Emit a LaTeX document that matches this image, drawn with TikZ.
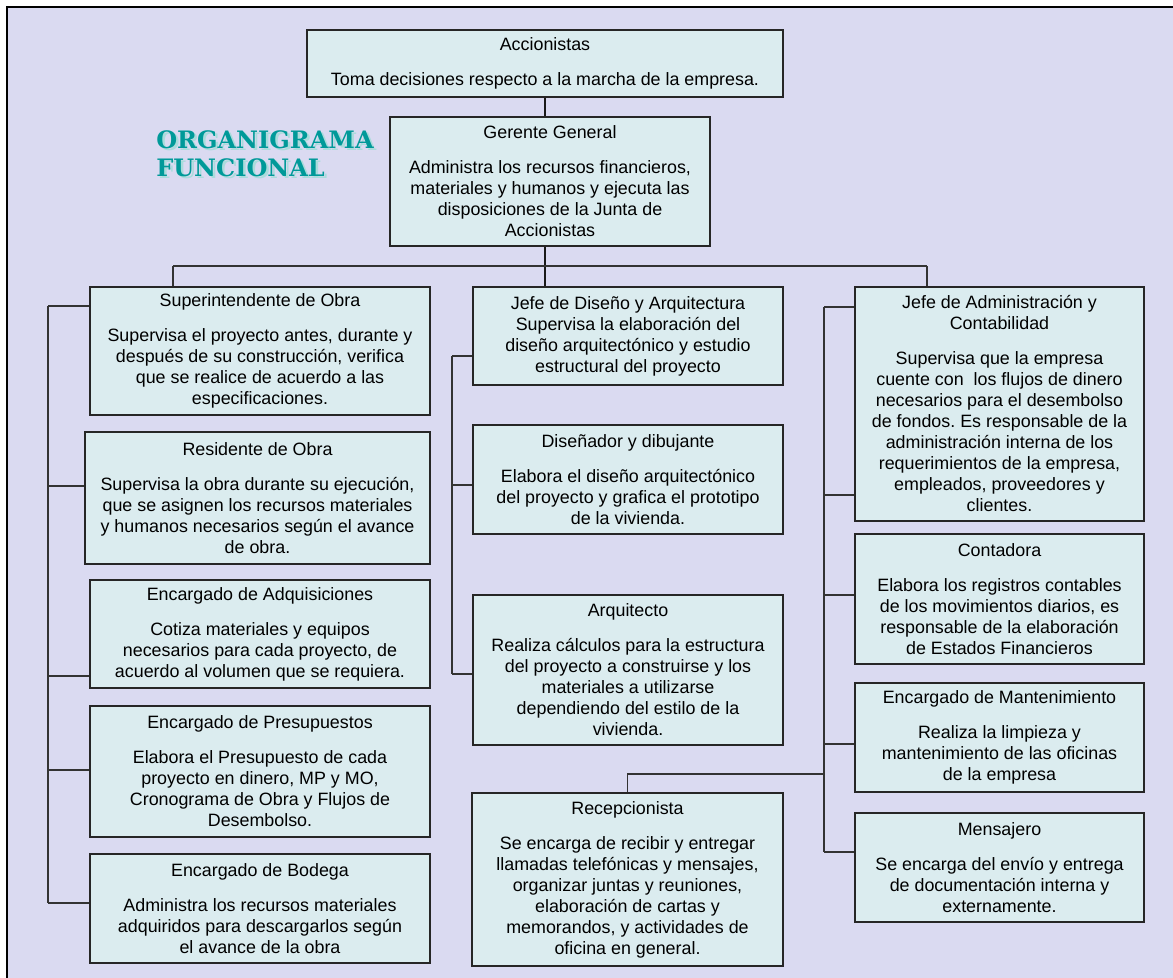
\documentclass[tikz,border=0pt]{standalone}
\usepackage{fontspec}
\setmainfont{Liberation Sans}
\newfontfamily\titlefont{DejaVu Serif}
\frenchspacing

\definecolor{fondo}{RGB}{218,218,241}
\definecolor{caja}{RGB}{219,236,239}
\definecolor{titulo}{RGB}{0,153,153}
\definecolor{sombra}{RGB}{170,220,220}

\tikzset{
  puesto/.style={draw=black!85, fill=caja, line width=0.9pt, align=center,
    inner sep=0pt, font=\fontsize{13.4}{15.75}\selectfont},
  linea/.style={draw=black!80, line width=0.9pt},
  gruesa/.style={draw=black!90, line width=1.6pt}
}

\begin{document}
\begin{tikzpicture}[x=0.75pt,y=-0.75pt]
\useasboundingbox (0,0) rectangle (1173,977);
\fill[white] (0,0) rectangle (1173,977);
\draw[fill=fondo, line width=1.2pt] (7,7) rectangle (1190,995);

% titulo
\node[anchor=north west, inner sep=0pt, align=left, text=sombra,
      font=\titlefont\bfseries\fontsize{18}{21}\selectfont] (titsh) at (158.5,132.5)
      {ORGANIGRAMA\\FUNCIONAL};
\node[anchor=north west, inner sep=0pt, align=left, text=titulo,
      font=\titlefont\bfseries\fontsize{18}{21}\selectfont] (tit) at (156,130)
      {ORGANIGRAMA\\FUNCIONAL};

\begin{scope}[every node/.style={puesto}]
    \node[minimum width=357pt, minimum height=50.25pt] (acc) at (545,63.5)
      {Accionistas\\[10.5pt]Toma decisiones respecto a la marcha de la empresa.};
    \node[minimum width=240pt, minimum height=96.75pt] (ger) at (550,181.5)
      {Gerente General\\[10.5pt]Administra los recursos financieros,\\materiales y humanos y ejecuta las\\disposiciones de la Junta de\\Accionistas};

    % columna izquierda
    \node[minimum width=255pt, minimum height=96pt] (sup) at (260,351)
      {Superintendente de Obra\\[10.5pt]Supervisa el proyecto antes, durante y\\después de su construcción, verifica\\que se realice de acuerdo a las\\especificaciones.};
    \node[minimum width=258.75pt, minimum height=99pt] (res) at (257.5,498)
      {Residente de Obra\\[10.5pt]Supervisa la obra durante su ejecución,\\que se asignen los recursos materiales\\y humanos necesarios según el avance\\de obra.};
    \node[minimum width=255pt, minimum height=81pt] (adq) at (260,634)
      {Encargado de Adquisiciones\\[10.5pt]Cotiza materiales y equipos\\necesarios para cada proyecto, de\\acuerdo al volumen que se requiera.};
    \node[minimum width=255pt, minimum height=98.25pt] (pre) at (260,771.5)
      {Encargado de Presupuestos\\[10.5pt]Elabora el Presupuesto de cada\\proyecto en dinero, MP y MO,\\Cronograma de Obra y Flujos de\\Desembolso.};
    \node[minimum width=255pt, minimum height=81.75pt] (bod) at (260,908.5)
      {Encargado de Bodega\\[10.5pt]Administra los recursos materiales\\adquiridos para descargarlos según\\el avance de la obra};

    % columna central
    \node[minimum width=232.5pt, minimum height=73.5pt] (dis) at (628,336)
      {Jefe de Diseño y Arquitectura\\Supervisa la elaboración del\\diseño arquitectónico y estudio\\estructural del proyecto};
    \node[minimum width=232.5pt, minimum height=81.75pt] (dib) at (628,479.5)
      {Diseñador y dibujante\\[10.5pt]Elabora el diseño arquitectónico\\del proyecto y grafica el prototipo\\de la vivienda.};
    \node[minimum width=232.5pt, minimum height=112.5pt] (arq) at (628,670)
      {Arquitecto\\[10.5pt]Realiza cálculos para la estructura\\del proyecto a construirse y los\\materiales a utilizarse\\dependiendo del estilo de la\\vivienda.};
    \node[minimum width=233.25pt, minimum height=129.75pt] (rec) at (627.5,879.5)
      {Recepcionista\\[10.5pt]Se encarga de recibir y entregar\\llamadas telefónicas y mensajes,\\organizar juntas y reuniones,\\elaboración de cartas y\\memorandos, y actividades de\\oficina en general.};

    % columna derecha
    \node[minimum width=216.75pt, minimum height=175.5pt] (adm) at (999.5,404)
      {Jefe de Administración y\\Contabilidad\\[10.5pt]Supervisa que la empresa\\cuente con\ \ los flujos de dinero\\necesarios para el desembolso\\de fondos. Es responsable de la\\administración interna de los\\requerimientos de la empresa,\\empleados, proveedores y\\clientes.};
    \node[minimum width=216.75pt, minimum height=97.5pt] (con) at (999.5,599)
      {Contadora\\[10.5pt]Elabora los registros contables\\de los movimientos diarios, es\\responsable de la elaboración\\de Estados Financieros};
    \node[minimum width=216.75pt, minimum height=81.75pt] (man) at (999.5,737.5)
      {Encargado de Mantenimiento\\[10.5pt]Realiza la limpieza y\\mantenimiento de las oficinas\\de la empresa};
    \node[minimum width=216.75pt, minimum height=81.75pt] (men) at (999.5,867.5)
      {Mensajero\\[10.5pt]Se encarga del envío y entrega\\de documentación interna y\\externamente.};
\end{scope}

% conexiones
\coordinate (busl) at (173,266);
\coordinate (busr) at (927,266);
\coordinate (rr) at (824,774);

\draw[gruesa] (acc.south) -- (acc.south |- ger.north);
\draw[gruesa] (acc.south |- ger.south) -- (acc.south |- dis.north);
\draw[linea] (busl) -- (busr);
\draw[linea] (busl) -- (busl |- sup.north);
\draw[linea] (busr) -- (busr |- adm.north);

\draw[linea] (48,306) -- (48,903);
\foreach \y/\n in {306/sup, 486/res, 676/adq, 770/pre, 903/bod}
    \draw[linea] (48,\y) -- (\n.west |- 48,\y);

\draw[linea] (452,356) -- (452,674);
\foreach \y/\n in {356/dis, 485/dib, 674/arq}
    \draw[linea] (452,\y) -- (\n.west |- 452,\y);

\draw[linea] (824,307) -- (824,852);
\foreach \y/\n in {307/adm, 495/adm, 595/con, 744/man, 852/men}
    \draw[linea] (824,\y) -- (\n.west |- 824,\y);
\draw[linea] (rr) -- (rr -| rec.north) -- (rec.north);
\end{tikzpicture}
\end{document}
